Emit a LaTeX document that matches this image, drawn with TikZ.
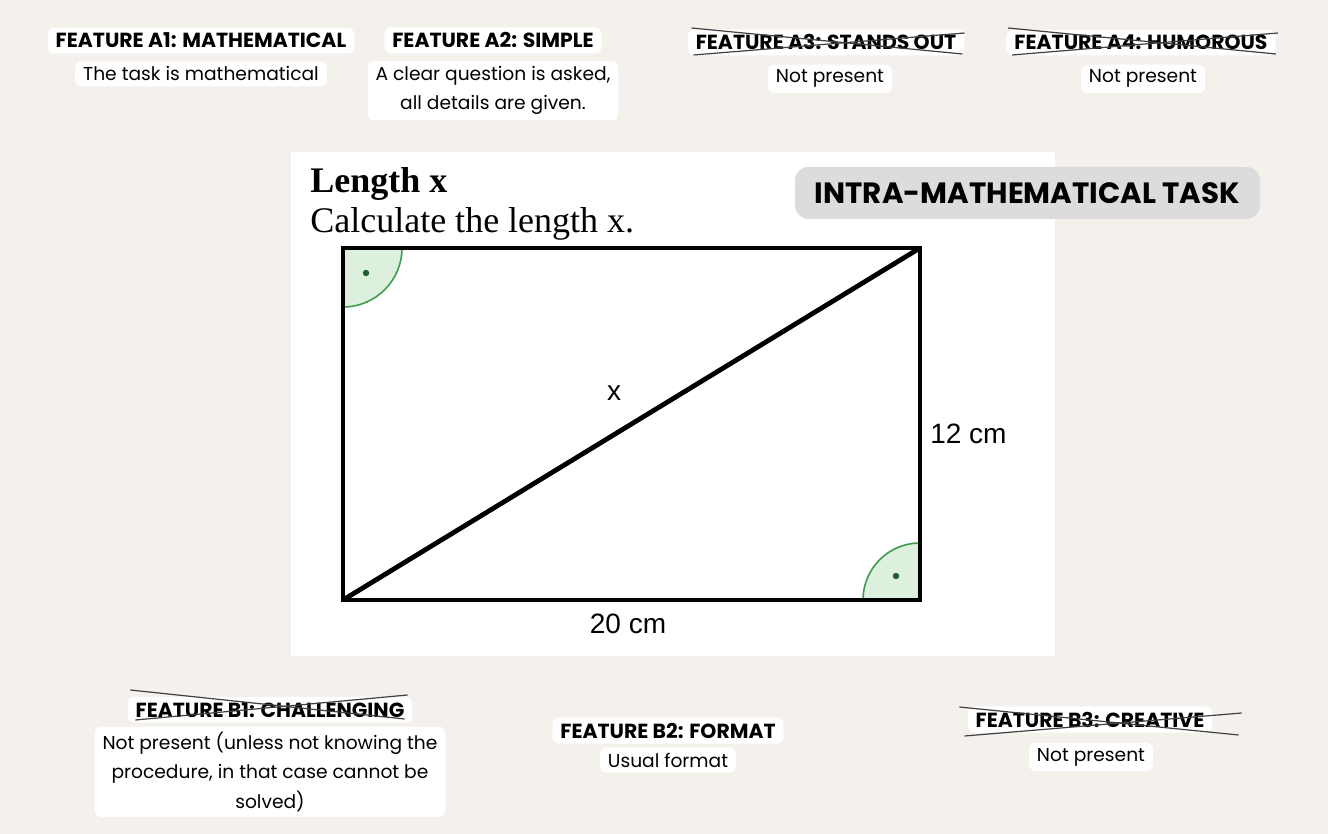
\documentclass[tikz,border=0pt]{standalone}
\usepackage{fontspec}
\setmainfont{Poppins}
\newfontfamily\taskfont{Liberation Serif}
\newfontfamily\figfont{Liberation Sans}
\usetikzlibrary{calc}
\definecolor{paper}{HTML}{F4F1EC}
\definecolor{tagGray}{HTML}{DCDCDC}
\definecolor{angleFill}{HTML}{DDEFDD}
\definecolor{angleLine}{HTML}{3F9B50}
\definecolor{dotGreen}{HTML}{1E5E2A}
\tikzset{
    % feature labels
    feat head/.style={fill=white, rounded corners=5pt, inner xsep=6pt, inner ysep=4pt,
                      anchor=base, font=\bfseries\fontsize{15.3}{18}\selectfont},
    feat text/.style={fill=white, rounded corners=5pt, inner xsep=6pt, inner ysep=4pt,
                      anchor=base, align=center, font=\fontsize{14}{22}\selectfont},
    strike/.style={draw=black!75, line width=0.9pt},
    % task picture
    edge line/.style={line width=3.6pt},
    right angle/.style={fill=angleFill, draw=angleLine, line width=1.2pt},
    fig label/.style={inner sep=0pt, font=\figfont\fontsize{21}{24}\selectfont},
}
\begin{document}
\begin{tikzpicture}[x=0.75pt, y=-0.75pt]
    \useasboundingbox (0,0) rectangle (1328,834);
    \fill[paper] (0,0) rectangle (1328,834);

    % Features A
    \node[feat text] (a1t) at (201,81) {The task is mathematical};
    \node[feat head] (a1) at (201,48) {FEATURE A1: MATHEMATICAL};
    \node[feat text] (a2t) at (493,110) {A clear question is asked,\\all details are given.};
    \node[feat head] (a2) at (493,48) {FEATURE A2: SIMPLE};
    \node[feat text] (a3t) at (830,83) {Not present};
    \node[feat head] (a3) at (826,50) {FEATURE A3: STANDS OUT};
    \node[feat text] (a4t) at (1143,83) {Not present};
    \node[feat head] (a4) at (1141,50) {FEATURE A4: HUMOROUS};

    \draw[strike] ($(a3.base west)+(4,-22)$) -- ($(a3.base east)+(-2,4)$);
    \draw[strike] ($(a3.base west)+(6,5)$) -- ($(a3.base east)+(0,-17)$);
    \draw[strike] ($(a4.base west)+(2,-22)$) -- ($(a4.base east)+(0,4)$);
    \draw[strike] ($(a4.base west)+(6,5)$) -- ($(a4.base east)+(2,-17)$);

    % Task picture
    \fill[white] (291,152) rectangle (1055,656);
    \node[fill=tagGray, rounded corners=10pt, minimum width=348.75pt, minimum height=39pt,
          font=\bfseries\fontsize{22}{26}\selectfont] (tag) at (1027.5,193) {INTRA-MATHEMATICAL TASK};
    \node[anchor=base west, inner sep=0pt, font=\taskfont\bfseries\fontsize{27}{30}\selectfont]
        (title) at (310,193) {Length x};
    \node[anchor=base west, inner sep=0pt, font=\taskfont\fontsize{27}{30}\selectfont]
        (question) at (310,233) {Calculate the length x.};

    \coordinate (tl) at (343,248);
    \coordinate (br) at (920,600);
    \filldraw[right angle] (tl) -- ++(59,0) arc[start angle=0, end angle=90, radius=59] -- cycle;
    \filldraw[right angle] (br) -- ++(-57,0) arc[start angle=180, end angle=270, radius=57] -- cycle;
    \fill[dotGreen] (366,273) circle[radius=3.2];
    \fill[dotGreen] (896,576) circle[radius=3.2];
    \draw[edge line] (tl) rectangle (br);
    \draw[edge line] (tl |- br) -- (br |- tl);

    \node[fig label] (x) at (614,393) {x};
    \node[fig label, anchor=base west] (side) at (930,443) {12 cm};
    \node[fig label, anchor=base] (base) at (628,633) {20 cm};

    % Features B
    \node[feat text] (b1t) at (270,808) {Not present (unless not knowing the\\procedure, in that case cannot be\\solved)};
    \node[feat head] (b1) at (270,717) {FEATURE B1: CHALLENGING};
    \node[feat text] (b2t) at (668,767) {Usual format};
    \node[feat head] (b2) at (668,738) {FEATURE B2: FORMAT};
    \node[feat text] (b3t) at (1091,761) {Not present};
    \node[feat head] (b3) at (1090,727) {FEATURE B3: CREATIVE};

    \draw[strike] ($(b1.base west)+(3,-27)$) -- ($(b1.base east)+(-8,2)$);
    \draw[strike] ($(b1.base west)+(8,3)$) -- ($(b1.base east)+(-5,-22)$);
    \draw[strike] ($(b3.base west)+(-8,-20)$) -- ($(b3.base east)+(26,8)$);
    \draw[strike] ($(b3.base west)+(-3,9)$) -- ($(b3.base east)+(29,-14)$);
\end{tikzpicture}
\end{document}
